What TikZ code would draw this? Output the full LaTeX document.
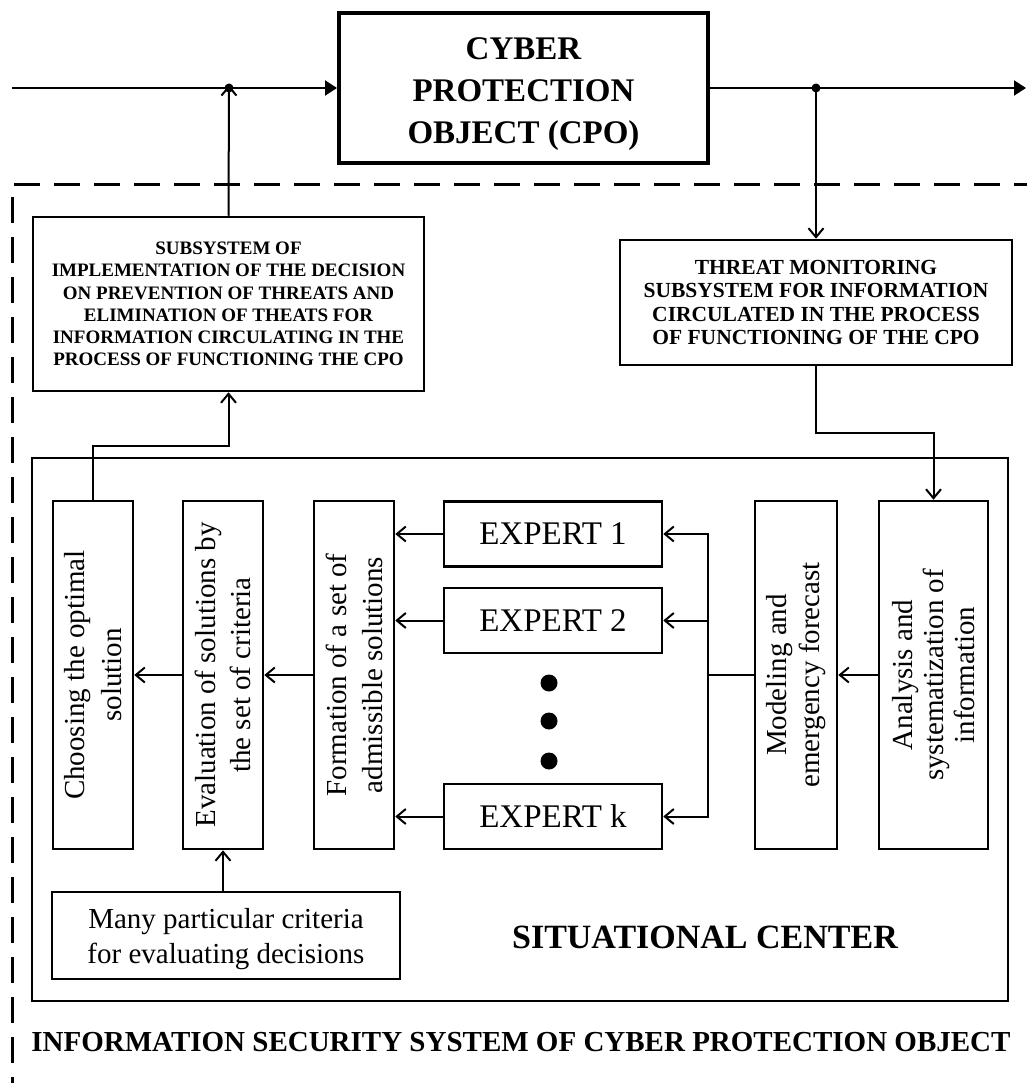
\documentclass[tikz,border=0pt]{standalone}
\usepackage{fontspec}
\setmainfont{Liberation Serif}
\usetikzlibrary{arrows.meta}
\begin{document}
\begin{tikzpicture}[x=1pt,y=-1pt,
  box/.style={draw, line width=2.5pt, inner sep=0pt, align=center},
  vbox/.style={box, minimum height=348pt},
  vtext/.style={rotate=90, align=center, inner sep=0pt},
  ebox/.style={box, minimum width=218pt, minimum height=65pt, font=\fontsize{33}{40}\selectfont},
  ln/.style={line width=2pt},
  arr/.style={line width=2pt, -{Straight Barb[length=9pt,width=15pt]}},
  mainarr/.style={line width=2pt, -{Triangle[length=12pt,width=15pt]}},
  dashborder/.style={line width=3pt, dash pattern=on 26pt off 14pt},
  jdot/.style={circle, fill=black, inner sep=0pt, minimum size=9pt},
  bigdot/.style={circle, fill=black, inner sep=0pt, minimum size=17pt}
]
\useasboundingbox (0,0) rectangle (1026,1083);

% dashed boundary of the information security system
\draw[dashborder] (1040,185) -- (12,185) -- (12,1100);

% cyber protection object
\node[box, line width=4pt, minimum width=369pt, minimum height=150pt] (cpo) at (523.5,88.5) {};
\node[align=center, inner sep=0pt, font=\bfseries\fontsize{33}{42}\selectfont] (cpo-t) at (523.5,94)
      {CYBER\\PROTECTION\\OBJECT (CPO)};

\coordinate (in) at (12,88);
\coordinate (out) at (1026,88);
\node[jdot] (j1) at (229,88) {};
\node[jdot] (j2) at (816,88) {};

\draw[mainarr] (in) -- (cpo.west |- j1);
\draw[mainarr] (cpo.east |- j2) -- (out);

% subsystems
\node[box, minimum width=391pt, minimum height=174pt,
      font=\bfseries\fontsize{19}{22.2}\selectfont] (impl) at (228.5,304)
      {SUBSYSTEM OF\\IMPLEMENTATION OF THE DECISION\\ON PREVENTION OF THREATS AND\\ELIMINATION OF THEATS FOR\\INFORMATION CIRCULATING IN THE\\PROCESS OF FUNCTIONING THE CPO};
\node[box, minimum width=392pt, minimum height=125pt,
      font=\bfseries\fontsize{21.5}{23.5}\selectfont] (threat) at (816,302.5)
      {THREAT MONITORING\\SUBSYSTEM FOR INFORMATION\\CIRCULATED IN THE PROCESS\\OF FUNCTIONING OF THE CPO};

\draw[arr] (impl.north) -- ([yshift=3pt]j1.center);
\draw[arr] (j2.center) -- (threat.north);

% situational center
\node[draw, line width=2.5pt, inner sep=0pt, minimum width=976pt, minimum height=543pt] (sc) at (520,729.5) {};

\node[vbox, minimum width=80pt] (choose) at (93,675) {};
\node[vtext, font=\fontsize{29}{37}\selectfont] (choose-t) at (choose) {Choosing the optimal\\solution};

\node[vbox, minimum width=80pt] (eval) at (223,675) {};
\node[vtext, font=\fontsize{29}{35}\selectfont] (eval-t) at (eval) {Evaluation of solutions by\\the set of criteria};

\node[vbox, minimum width=80pt] (form) at (354,675) {};
\node[vtext, font=\fontsize{29}{36}\selectfont] (form-t) at (form) {Formation of a set of\\admissible solutions};

\node[ebox] (exp1) at (553,534) {EXPERT 1};
\node[ebox] (exp2) at (553,620.5) {EXPERT 2};
\node[ebox] (expk) at (553,816.5) {EXPERT k};

\node[bigdot] (d1) at (549,683) {};
\node[bigdot] (d2) at (549,721) {};
\node[bigdot] (d3) at (549,761) {};

\node[vbox, minimum width=82pt] (model) at (796,675) {};
\node[vtext, font=\fontsize{29}{33}\selectfont] (model-t) at (model) {Modeling and\\emergency forecast};

\node[vbox, minimum width=109pt] (anal) at (933.5,675) {};
\node[vtext, font=\fontsize{29}{31}\selectfont] (anal-t) at (anal) {Analysis and\\systematization of\\information};

\node[box, minimum width=348pt, minimum height=87pt] (crit) at (226,935.5) {};
\node[align=center, inner sep=0pt, font=\fontsize{29}{35}\selectfont] (crit-t) at (226,939.5)
      {Many particular criteria\\for evaluating decisions};

\node[font=\bfseries\fontsize{34}{40}\selectfont, inner sep=0pt] (sclabel) at (705,937) {SITUATIONAL CENTER};

\node[font=\bfseries\fontsize{29}{34}\selectfont, inner sep=0pt] (isslabel) at (521,1042)
  {INFORMATION SECURITY SYSTEM OF CYBER PROTECTION OBJECT};

% connectors
\coordinate (bus) at (708,675);
\draw[ln] (model.west) -- (bus);
\draw[arr] (bus) |- (exp1.east);
\draw[arr] (bus) |- (exp2.east);
\draw[arr] (bus) |- (expk.east);

\draw[arr] (exp1.west) -- (form.east |- exp1.west);
\draw[arr] (exp2.west) -- (form.east |- exp2.west);
\draw[arr] (expk.west) -- (form.east |- expk.west);

\draw[arr] (form.west) -- (eval.east);
\draw[arr] (eval.west) -- (choose.east);
\draw[arr] (anal.west) -- (model.east);
\draw[arr] (eval.south |- crit.north) -- (eval.south);

\coordinate (c1) at (93,446);
\draw[arr] (choose.north) -- (c1) -| (impl.south);
\coordinate (c2) at (816,433);
\draw[arr] (threat.south) -- (c2) -| (anal.north);
\end{tikzpicture}
\end{document}
